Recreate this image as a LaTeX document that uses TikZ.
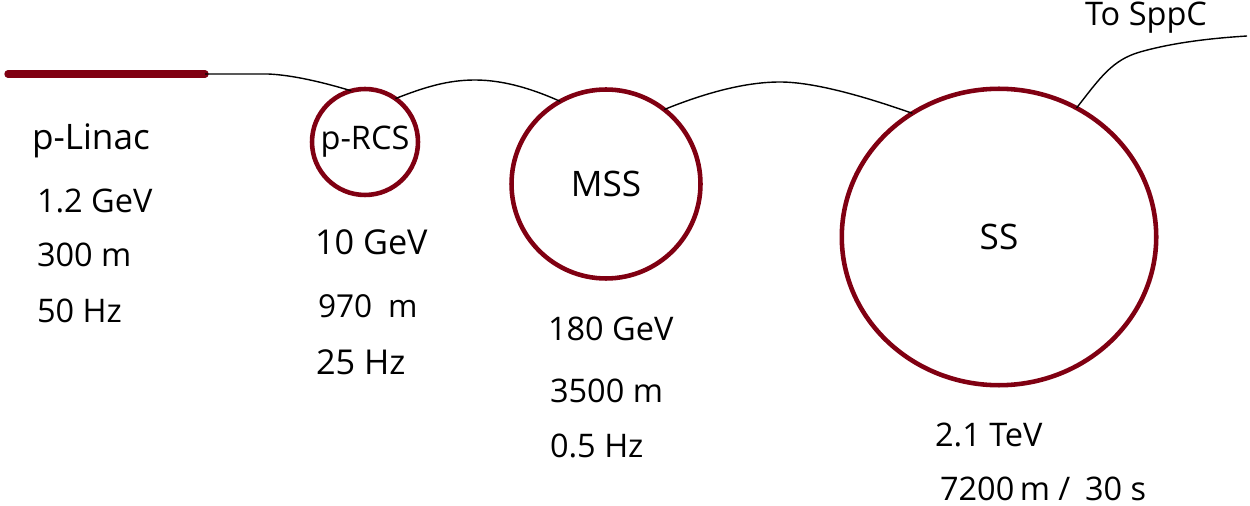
\documentclass[tikz,border=0pt]{standalone}
\usepackage{fontspec}
\setmainfont{Open Sans}
\usetikzlibrary{shapes.geometric}
\definecolor{ringred}{RGB}{128,0,18}
\tikzset{
  ring/.style={draw=ringred, line width=2.6pt, inner sep=0pt, outer sep=0pt, text=black},
  link/.style={draw=black, line width=0.8pt},
  lbl/.style={anchor=base west, inner sep=0pt, outer sep=0pt, text=black, font=\fontsize{18.5}{22}\selectfont},
}
\begin{document}
\begin{tikzpicture}[x=0.02cm, y=-0.02cm]
\useasboundingbox (0,0) rectangle (1250,506);
% linac
\coordinate (linacA) at (8,74);
\coordinate (linacB) at (205,74);
\coordinate (linacC) at (268,74);
\draw[draw=ringred, line width=4.2pt, line cap=round] (linacA) -- (linacB);
% rings
\node[ring, circle, minimum size=2.12cm, font=\fontsize{18.5}{22}\selectfont] (rcs) at (365,142) {p-RCS};
\node[ring, circle, minimum size=3.78cm, font=\fontsize{20}{24}\selectfont] (mss) at (606,184) {MSS};
\node[ring, ellipse, minimum width=6.29cm, minimum height=5.93cm, font=\fontsize{20}{24}\selectfont] (ss) at (999,237) {SS};
% connectors
\draw[link] (linacB) -- (linacC) .. controls (292,75) and (322,82) .. (rcs.105);
\draw[link] (rcs.55) .. controls (425,87) and (448,80) .. (475,80) .. controls (505,80) and (535,90) .. (mss.119);
\draw[link] (mss.52) .. controls (700,95) and (742,82) .. (780,82) .. controls (820,82) and (880,102) .. (ss.125);
\coordinate (sppc) at (1247,36);
\draw[link] (ss.59) .. controls (1100,78) and (1112,60) .. (1140,52) .. controls (1175,42) and (1215,38) .. (sppc);
% labels
\node[lbl, font=\fontsize{20}{24}\selectfont] (tlinac) at (32,150) {p-Linac};
\node[lbl] (l1) at (37,213) {1.2 GeV};
\node[lbl] (l2) at (37,267) {300 m};
\node[lbl] (l3) at (37,322) {50 Hz};
\node[lbl, font=\fontsize{19.5}{23}\selectfont] (r1) at (315,255) {10 GeV};
\node[lbl, font=\fontsize{18}{22}\selectfont] (r2) at (318,317) {970\hspace{0.5em}m};
\node[lbl, font=\fontsize{19.5}{23}\selectfont] (r3) at (316,375) {25 Hz};
\node[lbl] (m1) at (548,340) {180 GeV};
\node[lbl] (m2) at (550,402) {3500 m};
\node[lbl] (m3) at (550,457) {0.5 Hz};
\node[lbl] (s1) at (935,446) {2.1 TeV};
\node[lbl] (s2) at (940,500) {7200\,m /\hspace{0.45em}30 s};
\node[lbl] (tosppc) at (1085,26) {To SppC};
\end{tikzpicture}
\end{document}
